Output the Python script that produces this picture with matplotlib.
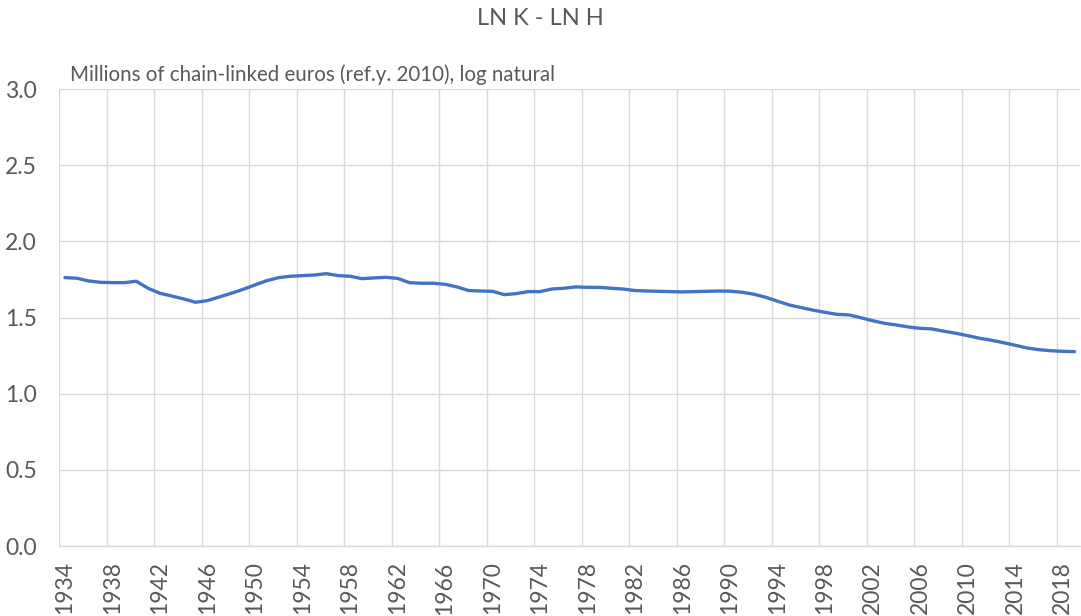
import numpy as np
import matplotlib.pyplot as plt
from matplotlib.ticker import FixedLocator

plt.rcParams["font.family"] = ["Lato", "DejaVu Sans"]

years = list(range(1934, 2020))
ln_k_minus_ln_h = [
    1.762, 1.758, 1.740, 1.731, 1.729, 1.729, 1.738, 1.692, 1.659, 1.641,
    1.622, 1.600, 1.611, 1.635, 1.659, 1.685, 1.714, 1.742, 1.762, 1.771,
    1.775, 1.779, 1.788, 1.775, 1.771, 1.755, 1.760, 1.764, 1.757, 1.729,
    1.725, 1.725, 1.718, 1.701, 1.677, 1.674, 1.672, 1.650, 1.657, 1.670,
    1.670, 1.687, 1.692, 1.701, 1.698, 1.698, 1.692, 1.687, 1.677, 1.674,
    1.672, 1.670, 1.668, 1.670, 1.672, 1.674, 1.673, 1.666, 1.653, 1.633,
    1.607, 1.582, 1.565, 1.548, 1.534, 1.521, 1.517, 1.499, 1.479, 1.462,
    1.451, 1.438, 1.429, 1.425, 1.410, 1.397, 1.381, 1.364, 1.351, 1.335,
    1.318, 1.300, 1.289, 1.282, 1.278, 1.276,
]
y_ticks = [0.0, 0.5, 1.0, 1.5, 2.0, 2.5, 3.0]

txt = "#595959"
grid = "#d9d9d9"

fig = plt.figure(figsize=(10.81, 6.16), dpi=100)
ax = fig.add_axes([0.0546, 0.1136, 0.9449, 0.7419])

x = np.arange(len(years))
ax.plot(x, ln_k_minus_ln_h, color="#4472C4", linewidth=2.4, zorder=3,
        solid_joinstyle="round", solid_capstyle="round")

ax.set_xlim(-0.5, len(years) - 0.5)
ax.set_ylim(0, 3.0)

# category labels every 4 years, gridlines on category boundaries
lab_idx = x[::4]
ax.set_xticks(lab_idx)
ax.set_xticklabels([str(years[i]) for i in lab_idx], rotation=90,
                   fontsize=16.5, color=txt)
ax.xaxis.set_minor_locator(FixedLocator(lab_idx - 0.5))
ax.tick_params(axis="x", which="both", length=0, pad=11)
ax.grid(True, axis="x", which="minor", color=grid, linewidth=1)

ax.set_yticks(y_ticks)
ax.set_yticklabels([f"{v:.1f}" for v in y_ticks], fontsize=16.5, color=txt)
ax.tick_params(axis="y", length=0, pad=16)
ax.grid(True, axis="y", which="major", color=grid, linewidth=1)

for side in ["top", "right", "left"]:
    ax.spines[side].set_visible(False)
ax.spines["bottom"].set_color(grid)
ax.spines["bottom"].set_linewidth(1)
ax.set_axisbelow(True)

fig.text(0.5, 0.97, "LN K - LN H", ha="center", va="center",
         fontsize=17, color=txt)
fig.text(0.065, 0.879, "Millions of chain-linked euros (ref.y. 2010), log natural",
         ha="left", va="center", fontsize=14.8, color=txt)

fig.savefig("out.png", dpi=100)
